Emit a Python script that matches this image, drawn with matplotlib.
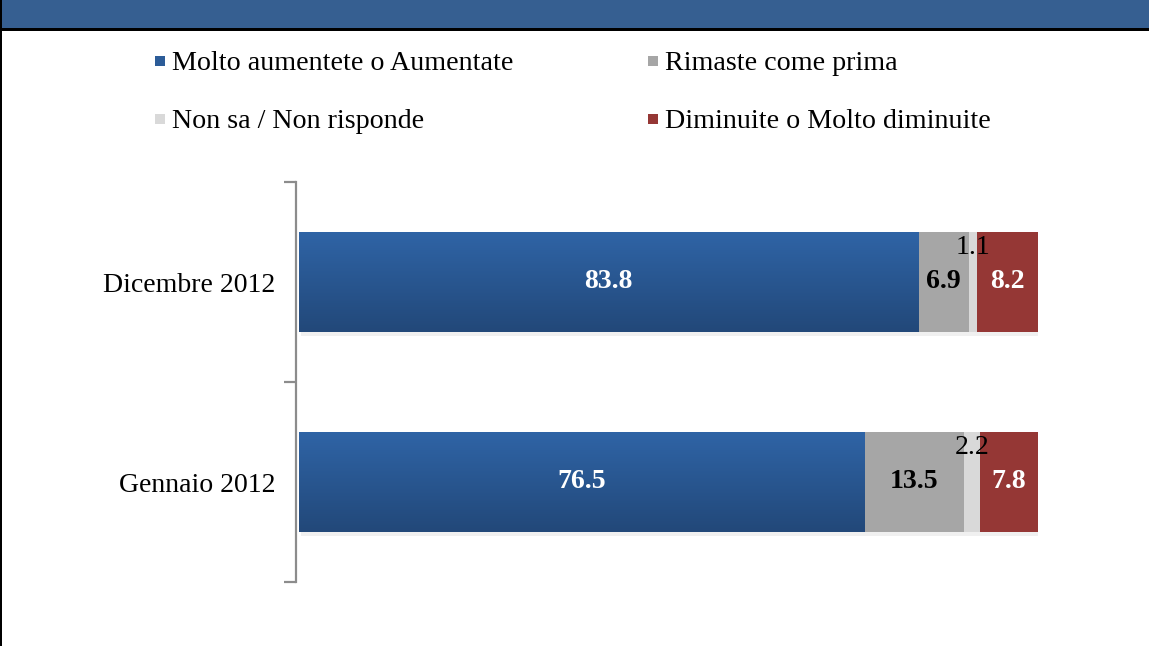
import numpy as np
import matplotlib
matplotlib.use("Agg")
import matplotlib.pyplot as plt
from matplotlib.patches import Rectangle
from matplotlib import patheffects as pe
from matplotlib.colors import LinearSegmentedColormap

plt.rcParams['font.family'] = ['Liberation Serif', 'DejaVu Serif']

categories = ["Gennaio 2012", "Dicembre 2012"]
series = ["Molto aumentete o Aumentate", "Rimaste come prima",
          "Non sa / Non risponde", "Diminuite o Molto diminuite"]
molto = [76.5, 83.8]
rimaste = [13.5, 6.9]
nonsa = [2.2, 1.1]
diminuite = [7.8, 8.2]
values = [molto, rimaste, nonsa, diminuite]
colors = ["#2C5C98", "#A6A6A6", "#D9D9D9", "#953735"]
label_colors = ["white", "black", "black", "white"]

W, H = 1149, 646
fig = plt.figure(figsize=(W / 100, H / 100), dpi=100)
fig.patch.set_facecolor("white")

# header band
fig.patches.append(Rectangle((0, (H - 29) / H), 1, 29 / H, transform=fig.transFigure,
                             facecolor="#365F91", edgecolor="none", zorder=0))
fig.patches.append(Rectangle((0, (H - 31) / H), 1, 2.5 / H, transform=fig.transFigure,
                             facecolor="black", edgecolor="none", zorder=1))
fig.patches.append(Rectangle((0, 0), 2 / W, 1, transform=fig.transFigure,
                             facecolor="black", edgecolor="none", zorder=1))

ax_l, ax_r, ax_t, ax_b = 299, 1038, 182, 582
ax = fig.add_axes([ax_l / W, (H - ax_b) / H, (ax_r - ax_l) / W, (ax_b - ax_t) / H])
ax.set_facecolor("none")

y = np.arange(len(categories))
left = np.zeros(len(categories))
bar_h = 0.5
all_bars = []
for i, (vals, c) in enumerate(zip(values, colors)):
    bars = ax.barh(y, vals, left=left, height=bar_h, color=c, edgecolor="none", zorder=3)
    for b in bars:
        b.set_path_effects([pe.SimplePatchShadow(offset=(1.5, -3), shadow_rgbFace="#000000",
                                                 alpha=0.06), pe.Normal()])
    all_bars.append(bars)
    for j, v in enumerate(vals):
        cx = left[j] + v / 2
        if v < 3:
            ax.text(cx, y[j] + 0.175, f"{v:.1f}", ha="center", va="center",
                    fontsize=20, color="black", zorder=6)
        else:
            ax.text(cx, y[j], f"{v:.1f}", ha="center", va="center", fontsize=20,
                    color=label_colors[i], fontweight="bold", zorder=6)
    left = left + np.array(vals)

# gradient on blue bars (lighter at top)
grad = np.linspace(0, 1, 256).reshape(-1, 1)
cmap = LinearSegmentedColormap.from_list("g", ["#2F64A6", "#224879"])
for b in all_bars[0]:
    x0, y0, w, h = b.get_x(), b.get_y(), b.get_width(), b.get_height()
    im = ax.imshow(grad, extent=[x0, x0 + w, y0, y0 + h], aspect="auto", cmap=cmap,
                   zorder=4, origin="upper")
    im.set_clip_path(b)

ax.set_xlim(0, 100)
ax.set_ylim(-0.5, 1.5)
ax.set_aspect("auto")
ax.xaxis.set_visible(False)
for s in ["top", "right", "bottom"]:
    ax.spines[s].set_visible(False)
ax.spines["left"].set_color("#8C8C8C")
ax.spines["left"].set_linewidth(1.6)
ax.spines["left"].set_position(("outward", 2))
ax.set_yticks(y)
ax.set_yticklabels(categories, fontsize=20)
ax.tick_params(axis="y", which="major", length=0, pad=15)
ax.set_yticks([-0.5, 0.5, 1.5], minor=True)
ax.tick_params(axis="y", which="minor", length=9, width=1.6, color="#8C8C8C")

# legend (manual)
leg_pos = [(155, 61), (648, 61), (155, 119), (648, 119)]
for (lx, ly), name, c in zip(leg_pos, series, colors):
    fig.patches.append(Rectangle((lx / W, (H - ly - 5) / H), 10 / W, 10 / H,
                                 transform=fig.transFigure, facecolor=c,
                                 edgecolor="none"))
    fig.text((lx + 17) / W, (H - ly) / H, name, fontsize=20.2, ha="left",
             va="center_baseline")

fig.savefig("out.png", dpi=100, facecolor="white")
